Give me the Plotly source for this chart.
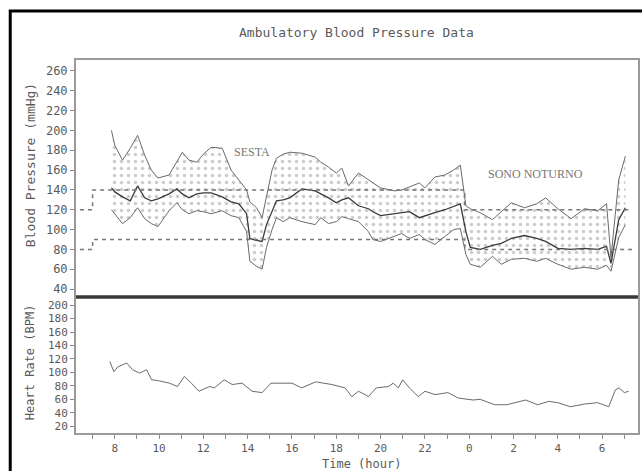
import plotly.graph_objects as go

# ---- data (hours; values after 24 are next-day hours) ----
bp_t = [7.85, 8.0, 8.35, 8.7, 9.03, 9.35, 9.65, 9.95, 10.45, 10.8, 11.05, 11.35, 11.7, 12.0, 12.35,
        12.85, 13.25, 13.6, 13.95, 14.1, 14.4, 14.65, 14.85, 15.1, 15.3, 15.6, 15.9, 16.45, 17.05, 17.3,
        17.65, 18.0, 18.25, 18.55, 19.0, 19.45, 19.65, 20.0, 20.65, 20.95, 21.3, 21.75, 22.0, 22.45, 22.9,
        23.3, 23.6, 23.85, 24.05, 24.5, 25.05, 25.45, 25.9, 26.5, 27.05, 27.45, 28.0, 28.6, 29.2, 29.8,
        30.2, 30.4, 30.75, 31.05]
systolic = [200, 185, 170, 182, 195, 175, 160, 152, 155, 168, 178, 170, 168, 176, 183,
            182, 160, 150, 140, 128, 122, 112, 135, 160, 172, 176, 178, 177, 173, 168,
            163, 157, 162, 144, 157, 150, 147, 142, 139, 140, 143, 147, 142, 153, 155,
            160, 165, 124, 121, 117, 110, 118, 127, 122, 126, 132, 121, 111, 121, 119,
            126, 72, 150, 174]
mean_bp = [142, 138, 133, 129, 144, 132, 129, 131, 136, 141, 136, 132, 136, 137, 137,
           133, 128, 126, 116, 91, 89, 88, 105, 119, 129, 130, 132, 141, 139, 136,
           132, 127, 130, 132, 124, 121, 118, 114, 116, 117, 118, 112, 114, 117, 120,
           123, 126, 98, 82, 80, 84, 86, 91, 94, 91, 88, 81, 80, 81, 80,
           83, 66, 110, 122]
diastolic = [120, 116, 106, 112, 122, 111, 106, 103, 119, 127, 120, 116, 119, 118, 116,
             119, 114, 112, 98, 68, 63, 60, 82, 100, 112, 108, 112, 108, 105, 112,
             106, 108, 113, 111, 108, 98, 90, 88, 93, 96, 91, 95, 90, 85, 93,
             100, 101, 75, 65, 62, 73, 65, 70, 71, 68, 71, 65, 60, 62, 60,
             64, 58, 92, 105]

hr_t = [7.78, 7.96, 8.13, 8.54, 8.8, 9.12, 9.44, 9.66, 9.93, 10.47, 10.83, 11.14, 11.46, 11.8, 12.27,
        12.5, 12.94, 13.3, 13.75, 14.2, 14.65, 15.05, 15.6, 16.0, 16.44, 17.07, 17.8, 18.4, 18.7, 19.0,
        19.3, 19.45, 19.8, 20.35, 20.57, 20.8, 21.0, 21.3, 21.7, 22.0, 22.46, 23.04, 23.5, 24.17, 24.5,
        25.15, 25.7, 26.05, 26.55, 27.08, 27.6, 28.0, 28.57, 29.2, 29.8, 30.3, 30.6, 30.77, 31.0, 31.2]
heart_rate = [116, 101, 108, 114, 104, 99, 104, 89, 88, 84, 79, 94, 84, 72, 79,
              77, 89, 82, 84, 72, 70, 84, 84, 84, 77, 86, 82, 77, 64, 72,
              67, 64, 77, 79, 84, 77, 89, 77, 64, 72, 67, 70, 62, 59, 60,
              52, 52, 55, 59, 52, 57, 55, 49, 53, 55, 49, 74, 77, 70, 72]

# threshold step lines (night / day / night)
thr_t = [6.43, 7.0, 7.0, 23.8, 23.8, 31.35]
thr_sys = [120, 120, 140, 140, 120, 120]
thr_dia = [80, 80, 90, 90, 80, 80]

tick_hours = [8, 10, 12, 14, 16, 18, 20, 22, 24, 26, 28, 30]
tick_text = ['8', '10', '12', '14', '16', '18', '20', '22', '0', '2', '4', '6']
minor_hours = [7, 9, 11, 13, 15, 17, 19, 21, 23, 25, 27, 29, 31]
bp_ticks = list(range(40, 261, 20))
hr_ticks = list(range(20, 201, 20))

MONO = "DejaVu Sans Mono"
GRAY = "#5a5a5a"

fig = go.Figure()

fig.add_trace(go.Scatter(x=bp_t, y=diastolic, mode="lines", line=dict(color="#6a6a6a", width=1),
                         xaxis="x", yaxis="y", showlegend=False))
fig.add_trace(go.Scatter(x=bp_t, y=systolic, mode="lines", line=dict(color="#6a6a6a", width=1),
                         fill="tonexty", fillcolor="rgba(255,255,255,0)",
                         fillpattern=dict(shape=".", fgcolor="#9a9a9a", bgcolor="white", size=7, solidity=0.2),
                         xaxis="x", yaxis="y", showlegend=False))
fig.add_trace(go.Scatter(x=bp_t, y=mean_bp, mode="lines", line=dict(color="#3a3a3a", width=1.3),
                         xaxis="x", yaxis="y", showlegend=False))
fig.add_trace(go.Scatter(x=thr_t, y=thr_sys, mode="lines", line=dict(color="#777", width=1.5, dash="4px,4px"),
                         xaxis="x", yaxis="y", showlegend=False))
fig.add_trace(go.Scatter(x=thr_t, y=thr_dia, mode="lines", line=dict(color="#777", width=1.5, dash="4px,4px"),
                         xaxis="x", yaxis="y", showlegend=False))

fig.add_trace(go.Scatter(x=hr_t, y=heart_rate, mode="lines", line=dict(color="#6a6a6a", width=1),
                         xaxis="x2", yaxis="y2", showlegend=False))

split = (433 - 297) / 373.0

axis_common = dict(showline=True, linecolor="#9a9a9a", linewidth=2, mirror=True, showgrid=False,
                   zeroline=False)

fig.update_layout(
    width=642, height=471,
    margin=dict(l=76, r=2, t=60, b=38),
    paper_bgcolor="white", plot_bgcolor="white",
    xaxis=dict(range=[6.25, 31.62], anchor="y", showticklabels=False, ticks="", **axis_common),
    yaxis=dict(domain=[split, 1], range=[32, 271], tickvals=bp_ticks, ticks="outside", ticklen=4,
               tickcolor="#888", tickfont=dict(family=MONO, size=12, color=GRAY), **axis_common),
    xaxis2=dict(range=[6.25, 31.62], anchor="y2", matches="x", tickvals=tick_hours, ticktext=tick_text,
                ticks="outside", ticklen=4, tickcolor="#888",
                minor=dict(tickvals=minor_hours, ticks="outside", ticklen=4, tickcolor="#888"),
                tickfont=dict(family=MONO, size=11, color=GRAY), **axis_common),
    yaxis2=dict(domain=[0, split], range=[10, 212], tickvals=hr_ticks, ticks="outside", ticklen=4,
                tickcolor="#888", tickfont=dict(family=MONO, size=11, color=GRAY), **axis_common),
)

def px_x(px):
    return (px - 76) / 564.0

def px_y(py):
    return (433 - py) / 373.0

fig.add_shape(type="rect", xref="paper", yref="paper", x0=px_x(10), x1=px_x(660), y0=px_y(490), y1=px_y(11),
              line=dict(color="black", width=3), layer="above")
fig.add_shape(type="line", xref="paper", yref="paper", x0=0, x1=1, y0=split, y1=split,
              line=dict(color="#3a3a3a", width=3), layer="above")

ann = [
    dict(text="Ambulatory Blood Pressure Data", x=px_x(357), y=px_y(33), size=13),
    dict(text="Blood Pressure (mmHg)", x=px_x(30), y=px_y(165), size=13, angle=-90),
    dict(text="Heart Rate (BPM)", x=px_x(30), y=px_y(362), size=12, angle=-90),
    dict(text="Time (hour)", x=px_x(363), y=px_y(464), size=12),
]
for a in ann:
    fig.add_annotation(text=a["text"], xref="paper", yref="paper", x=a["x"], y=a["y"],
                       showarrow=False, textangle=a.get("angle", 0),
                       font=dict(family=MONO, size=a["size"], color=GRAY),
                       xanchor="center", yanchor="middle")

fig.add_annotation(text="SESTA", x=14.2, y=178, xref="x", yref="y", showarrow=False,
                   font=dict(family="Liberation Serif", size=12, color="#777"))
fig.add_annotation(text="SONO NOTURNO", x=27.0, y=156, xref="x", yref="y", showarrow=False,
                   font=dict(family="Liberation Serif", size=12, color="#777"))

fig.write_html("out.html")
